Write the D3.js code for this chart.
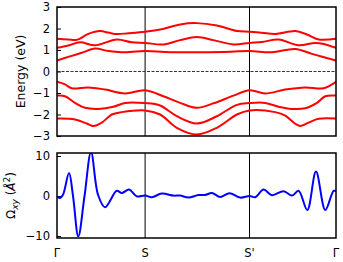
<!DOCTYPE html>
<html>
<head>
<meta charset="utf-8">
<script src="https://cdn.jsdelivr.net/npm/d3@7"></script>
<style>
	body { margin: 0; background: #fff; }
	text { font-family: "DejaVu Sans", sans-serif; }
</style>
</head>
<body>
<div id="chart"></div>
<script>
// high-symmetry points along the path (k in arbitrary path units)
var kTicks = [0, 0.88, 1.923, 2.787],
	kLabels = ["Γ", "S", "S'", "Γ"];

var eTicks = [-3, -2, -1, 0, 1, 2, 3],
	omegaTicks = [-10, 0, 10];

// bands, [k, E (eV)], lowest first
var band1 = [[0,-2.19],[0.18,-2.23],[0.297,-2.42],[0.363,-2.54],[0.447,-2.38],[0.547,-2.0],[0.647,-1.89],[0.88,-1.81],
	[1.03,-2.0],[1.197,-2.62],[1.397,-2.93],[1.597,-2.62],[1.797,-2.0],[1.923,-1.81],
	[2.18,-1.89],[2.28,-2.05],[2.38,-2.43],[2.43,-2.54],[2.513,-2.38],[2.613,-2.2],[2.787,-2.19]];
var band2 = [[0,-1.12],[0.08,-1.15],[0.18,-1.46],[0.28,-1.69],[0.413,-1.74],[0.563,-1.64],[0.68,-1.46],[0.88,-1.47],
	[1.03,-1.58],[1.197,-2.08],[1.397,-2.42],[1.597,-2.08],[1.797,-1.55],[1.923,-1.47],
	[2.08,-1.46],[2.213,-1.64],[2.347,-1.74],[2.48,-1.71],[2.597,-1.46],[2.68,-1.15],[2.787,-1.12]];
var band3 = [[0,-0.48],[0.08,-0.6],[0.147,-0.78],[0.313,-0.74],[0.48,-0.84],[0.68,-1.02],[0.88,-0.87],
	[1.063,-1.15],[1.23,-1.46],[1.397,-1.69],[1.563,-1.48],[1.763,-1.12],[1.923,-0.87],
	[2.08,-1.02],[2.28,-0.84],[2.48,-0.74],[2.663,-0.78],[2.787,-0.48]];
var band4 = [[0,0.51],[0.113,0.68],[0.247,0.87],[0.38,1.07],[0.513,0.95],[0.647,0.9],[0.88,0.95],
	[1.163,0.9],[1.397,0.9],[1.663,0.91],[1.923,0.95],
	[2.147,0.9],[2.38,1.05],[2.547,0.82],[2.787,0.51]];
var band5 = [[0,1.1],[0.113,1.21],[0.23,1.36],[0.38,1.22],[0.597,1.49],[0.747,1.36],[0.88,1.33],
	[1.063,1.26],[1.23,1.46],[1.397,1.6],[1.563,1.46],[1.763,1.26],[1.923,1.33],
	[2.047,1.37],[2.213,1.49],[2.413,1.22],[2.58,1.33],[2.68,1.26],[2.787,1.1]];
var band6 = [[0,1.52],[0.113,1.49],[0.197,1.47],[0.313,1.75],[0.43,1.88],[0.513,1.81],[0.597,1.74],[0.713,1.78],[0.88,1.85],
	[1.03,1.95],[1.23,2.19],[1.397,2.25],[1.597,2.14],[1.797,1.88],[1.923,1.85],
	[2.047,1.8],[2.18,1.74],[2.38,1.88],[2.497,1.72],[2.613,1.49],[2.787,1.52]];

var bands = [band1, band2, band3, band4, band5, band6];

// Berry curvature Omega_xy, [k, value]
var omega = [[0,-0.1],[0.03,-0.5],[0.06,0.3],[0.12,5.75],[0.16,0],[0.213,-10.1],[0.275,0],[0.34,11],[0.41,0.3],
	[0.48,-2.8],[0.597,1.3],[0.647,0.75],[0.72,1.6],[0.797,-0.1],[0.88,0.1],
	[0.947,-0.3],[1.047,0.6],[1.163,0.1],[1.23,0.1],[1.313,-0.4],[1.413,0.25],[1.48,0.25],[1.547,0.75],
	[1.63,-0.25],[1.723,0.7],[1.83,-0.4],[1.923,0],
	[1.98,-0.3],[2.063,1.6],[2.147,0.2],[2.263,1.2],[2.347,0.1],[2.413,1.3],[2.5,-3.5],[2.587,6.1],
	[2.68,-3.5],[2.763,1.3],[2.787,1.2]];

var W = 343, H = 262,
	left = 57, right = 336,
	top1 = 7, bottom1 = 136,
	top2 = 153, bottom2 = 238;

var svg = d3.select("#chart").append("svg")
	.attr("width", W)
	.attr("height", H);

var x = d3.scaleLinear()
	.domain([kTicks[0], kTicks[kTicks.length - 1]])
	.range([left, right]);

var yE = d3.scaleLinear()
	.domain([-3, 3])
	.range([bottom1, top1]);

var yO = d3.scaleLinear()
	.domain([-10.5, 10.75])
	.range([bottom2, top2]);

var defs = svg.append("defs");
defs.append("clipPath").attr("id", "clip1").append("rect")
	.attr("x", left).attr("y", top1).attr("width", right - left).attr("height", bottom1 - top1);
defs.append("clipPath").attr("id", "clip2").append("rect")
	.attr("x", left).attr("y", top2).attr("width", right - left).attr("height", bottom2 - top2);

function panel(y, top, bottom, ticks, clip) {
	var g = svg.append("g");

	// vertical lines at the high-symmetry points
	g.selectAll(".kline")
		.data(kTicks.slice(1, -1))
		.enter().append("line")
		.attr("x1", function(d) { return x(d); })
		.attr("x2", function(d) { return x(d); })
		.attr("y1", top)
		.attr("y2", bottom)
		.attr("stroke", "#000")
		.attr("stroke-width", 1);

	var ax = g.append("g")
		.attr("transform", "translate(" + left + ",0)")
		.call(d3.axisLeft(y).tickValues(ticks).tickSizeInner(-4).tickSizeOuter(0).tickPadding(7)
			.tickFormat(function(d) { return d < 0 ? "\u2212" + Math.abs(d) : d; }));
	ax.select(".domain").remove();
	ax.selectAll("text").attr("font-size", 11.5).attr("fill", "#000").attr("font-family", "DejaVu Sans");
	ax.selectAll("line").attr("stroke", "#000");

	var plot = g.append("g").attr("clip-path", "url(#" + clip + ")");
	return plot;
}

/* band structure */

var p1 = panel(yE, top1, bottom1, eTicks, "clip1");

p1.append("line")
	.attr("x1", left).attr("x2", right)
	.attr("y1", yE(0)).attr("y2", yE(0))
	.attr("stroke", "#333")
	.attr("stroke-width", 1)
	.attr("stroke-dasharray", "3,1.5");

var lineE = d3.line()
	.x(function(d) { return x(d[0]); })
	.y(function(d) { return yE(d[1]); })
	.curve(d3.curveCatmullRom.alpha(0.5));

p1.selectAll(".band")
	.data(bands)
	.enter().append("path")
	.attr("class", "band")
	.attr("d", lineE)
	.attr("fill", "none")
	.attr("stroke", "#ff0000")
	.attr("stroke-width", 2);

/* berry curvature */

var p2 = panel(yO, top2, bottom2, omegaTicks, "clip2");

var lineO = d3.line()
	.x(function(d) { return x(d[0]); })
	.y(function(d) { return yO(d[1]); })
	.curve(d3.curveCatmullRom.alpha(0.5));

p2.append("path")
	.datum(omega)
	.attr("d", lineO)
	.attr("fill", "none")
	.attr("stroke", "#0000ff")
	.attr("stroke-width", 2);

// frames
[[top1, bottom1], [top2, bottom2]].forEach(function(b) {
	svg.append("rect")
		.attr("x", left).attr("y", b[0])
		.attr("width", right - left).attr("height", b[1] - b[0])
		.attr("fill", "none")
		.attr("stroke", "#000")
		.attr("stroke-width", 1.5);
});

// k labels
svg.selectAll(".klabel")
	.data(kTicks)
	.enter().append("text")
	.attr("x", function(d) { return x(d); })
	.attr("y", 257)
	.attr("text-anchor", "middle")
	.attr("font-size", 11.5)
	.text(function(d, i) { return kLabels[i]; });

// axis titles
svg.append("text")
	.attr("transform", "translate(25," + ((top1 + bottom1) / 2) + ") rotate(-90)")
	.attr("text-anchor", "middle")
	.attr("font-size", 12.5)
	.text("Energy (eV)");

var t2 = svg.append("text")
	.attr("transform", "translate(15," + ((top2 + bottom2) / 2) + ") rotate(-90)")
	.attr("text-anchor", "middle")
	.attr("font-size", 12);
t2.append("tspan").text("Ω");
t2.append("tspan").attr("font-style", "italic").attr("font-size", 9).attr("dy", 3).text("xy");
t2.append("tspan").attr("dy", -3).text(" (");
t2.append("tspan").attr("font-style", "italic").text("Å");
t2.append("tspan").attr("font-size", 9).attr("dy", -5).text("2");
t2.append("tspan").attr("dy", 5).text(")");
</script>
</body>
</html>
